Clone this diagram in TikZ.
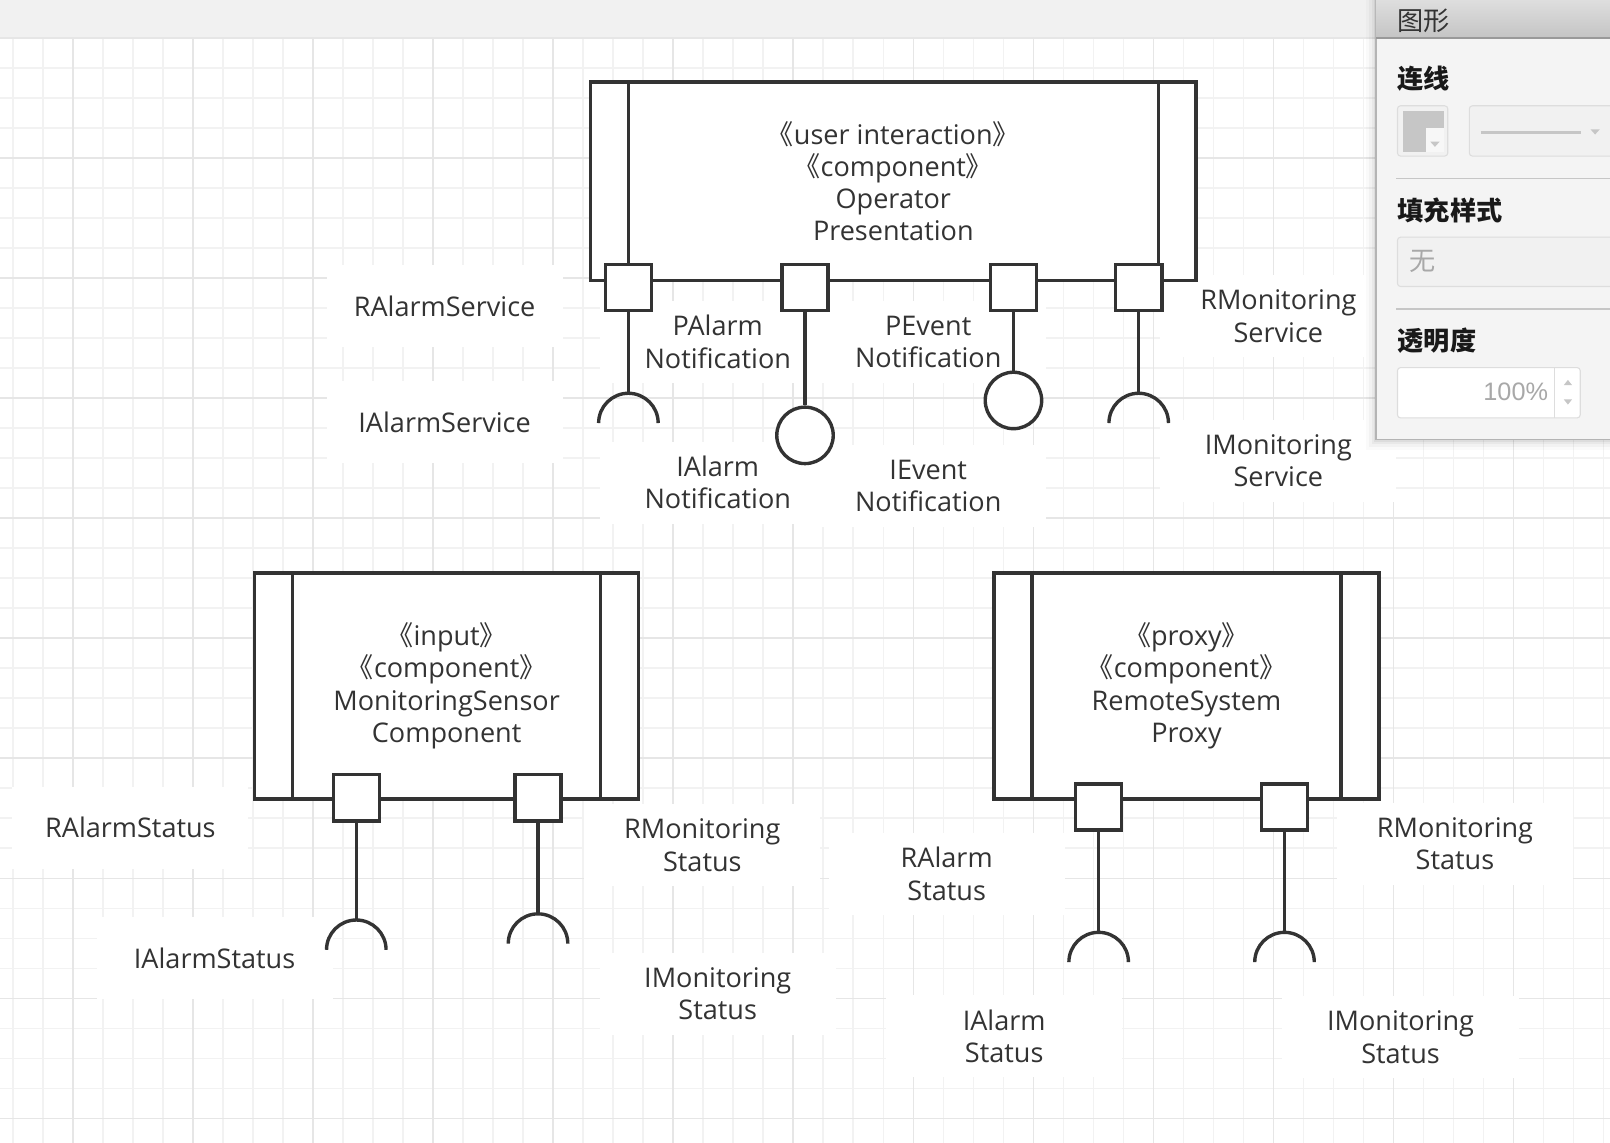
\documentclass[tikz,border=0pt]{standalone}
\usepackage{fontspec}
\setmainfont{Open Sans}
\newfontfamily\cjk{Noto Sans CJK SC}
\newfontfamily\uifont{Liberation Sans}
\newcommand{\stereoL}{{\cjk 《}}
\newcommand{\stereoR}{{\cjk 》}}
\definecolor{ink}{HTML}{333333}
\definecolor{gridminor}{HTML}{F2F2F2}
\definecolor{gridmajor}{HTML}{E6E6E6}
\definecolor{barbg}{HTML}{F1F1F1}
\definecolor{panelbg}{HTML}{F4F4F4}
\definecolor{paneledge}{HTML}{B4B4B4}
\definecolor{headtop}{HTML}{DEDEDE}
\definecolor{headbot}{HTML}{C4C4C4}
\definecolor{headedge}{HTML}{999999}
\definecolor{fieldedge}{HTML}{DDDDDD}
\definecolor{fieldbg}{HTML}{F1F1F1}
\definecolor{swatch}{HTML}{C6C6C6}
\definecolor{hint}{HTML}{A8A8A8}

\begin{document}
\begin{tikzpicture}[x=0.02cm, y=-0.02cm]
	\tikzstyle{wire}  = [draw=ink, line width=0.066cm]
	\tikzstyle{comp}  = [rectangle, wire, fill=white, align=center, text=ink, inner sep=0pt, font=\fontsize{15}{17.9}\selectfont]
	\tikzstyle{port}  = [rectangle, wire, fill=white, minimum size=0.9cm, inner sep=0pt]
	\tikzstyle{ball}  = [circle, wire, fill=white, minimum size=1.1cm, inner sep=0pt]
	\tikzstyle{lbl}   = [rectangle, fill=white, minimum width=4.6cm, minimum height=1.6cm, align=center, text=ink, inner sep=0pt, font=\fontsize{15}{17.9}\selectfont]
	\tikzstyle{minor} = [draw=gridminor, line width=0.8pt]
	\tikzstyle{major} = [draw=gridmajor, line width=0.8pt]
	\tikzstyle{title} = [anchor=west, inner sep=0pt, text=black!90, font=\cjk\bfseries\fontsize{14.5}{16}\selectfont]
	\tikzstyle{field} = [draw=fieldedge, line width=0.6pt, rounded corners=0.06cm]

	\useasboundingbox (0,0) rectangle (1568,1113);
	\fill[white] (0,0) rectangle (1568,1113);
	\fill[barbg] (0,0) rectangle (1568,37);

%	grid
	\foreach \i in {0,...,53}
		\draw[minor] ({12.65+\i*29.225},37) -- ({12.65+\i*29.225},1113);
	\foreach \j in {1,...,37}
		\draw[minor] (0,{37+\j*29.225}) -- (1568,{37+\j*29.225});
	\foreach \i in {0,...,12}
		\draw[major] ({71.1+\i*116.9},37) -- ({71.1+\i*116.9},1113);
	\foreach \j in {0,...,9}
		\draw[major] (0,{37+\j*116.9}) -- (1568,{37+\j*116.9});

	\foreach \name/\x/\y/\txt in {rAlarmSvc/433/298/RAlarmService, iAlarmSvc/433/411/IAlarmService,
			pAlarmNote/699/333/PAlarm\\Notification, pEventNote/904/333/PEvent\\Notification,
			iAlarmNote/699/470/IAlarm\\Notification, iEventNote/904/473/IEvent\\Notification,
			rMonSvc/1245/308/RMonitoring\\Service, iMonSvc/1245/449/IMonitoring\\Service,
			rAlarmStatA/127/806/RAlarmStatus, iAlarmStatA/209/933/IAlarmStatus,
			rMonStatA/684/823/RMonitoring\\Status, iMonStatA/699/968/IMonitoring\\Status,
			rAlarmStatB/922/851/RAlarm\\Status, rMonStatB/1417/822/RMonitoring\\Status,
			iAlarmStatB/978/1009/IAlarm\\Status, iMonStatB/1364/1010/IMonitoring\\Status}
		\node[lbl] (\name) at (\x,\y) {\txt};

	\node[comp, minimum width=11.8cm, minimum height=3.86cm] (opPres) at (870,176.5)
		{\stereoL user interaction\stereoR\\\stereoL component\stereoR\\Operator\\Presentation};
	\node[comp, minimum width=7.48cm, minimum height=4.4cm] (monSensor) at (435,668)
		{\stereoL input\stereoR\\\stereoL component\stereoR\\MonitoringSensor\\Component};
	\node[comp, minimum width=7.5cm, minimum height=4.4cm] (remProxy) at (1155.5,668)
		{\stereoL proxy\stereoR\\\stereoL component\stereoR\\RemoteSystem\\Proxy};

	\foreach \c in {opPres, monSensor, remProxy} {
		\draw[wire] ([xshift=0.77cm]\c.north west) -- ([xshift=0.77cm]\c.south west);
		\draw[wire] ([xshift=-0.77cm]\c.north east) -- ([xshift=-0.77cm]\c.south east);
	}

	\foreach \name/\x/\y in {pA/612/280, pB/784/280, pC/987/280, pD/1109/280,
			pE/347/777, pF/524/777, pG/1070/786, pH/1251/786}
		\node[port] (\name) at (\x,\y) {};

	\foreach \name/\x/\y in {sA/612/383, sD/1109/383, sE/347/896, sF/524/890, sG/1070/908, sH/1251/908}
		\coordinate (\name) at (\x,\y);

	\foreach \name/\x/\y in {bB/784/424, bC/987/390}
		\node[ball] (\name) at (\x,\y) {};

	\foreach \from/\to in {pA/sA, pB/bB, pC/bC, pD/sD, pE/sE, pF/sF, pG/sG, pH/sH}
		\draw[wire] (\from.south) -- (\to);

	\foreach \s in {sA, sD, sE, sF, sG, sH}
		\draw[wire] (\s) ++(-0.58cm,-0.58cm) arc[start angle=180, end angle=0, radius=0.58cm];

%	side panel
	\foreach \d/\o in {10/0.02, 7/0.03, 4/0.04, 2/0.05}
		\fill[black, opacity=\o] ({1340-\d},0) rectangle (1568,{428+\d});
	\fill[panelbg] (1340,0) rectangle (1568,428);
	\draw[paneledge, line width=0.8pt] (1340,0) -- (1340,428) -- (1568,428);
	\shade[top color=headtop, bottom color=headbot] (1340,0) rectangle (1568,37);
	\draw[headedge, line width=1pt] (1340,37) -- (1568,37);
	\node[anchor=west, inner sep=0pt, text=ink, font=\cjk\fontsize{14.5}{16}\selectfont] (shapeHdr) at (1361,20) {图形};

	\node[title] (lineHdr) at (1361,77) {连线};
	\draw[field, fill=fieldbg] (1361,103) rectangle (1410,152);
	\fill[swatch] (1366,108) rectangle (1406,148);
	\fill[fieldbg!60!white] (1389,125) rectangle (1406,148);
	\fill[swatch] (1393,138) -- (1402,138) -- (1397.5,143) -- cycle;
	\draw[field, fill=fieldbg] (1431,103) rectangle (1575,152);
	\draw[swatch, line width=0.06cm] (1442,129) -- (1540,129);
	\fill[swatch] (1549,126) -- (1558,126) -- (1553.5,131) -- cycle;
	\draw[swatch, line width=0.8pt] (1360,174) -- (1568,174);

	\node[title] (fillHdr) at (1361,205) {填充样式};
	\draw[field, fill=fieldbg] (1361,231) rectangle (1575,279);
	\node[anchor=west, inner sep=0pt, text=hint, font=\cjk\fontsize{14.5}{16}\selectfont] (fillVal) at (1372,255) {无};
	\draw[swatch, line width=0.8pt] (1360,301) -- (1568,301);

	\node[title] (opacHdr) at (1361,332) {透明度};
	\draw[field, fill=white] (1361,358) rectangle (1539,407);
	\draw[fieldedge, line width=0.6pt] (1514,358) -- (1514,407);
	\node[anchor=east, inner sep=0pt, text=hint, font=\uifont\fontsize{14}{16}\selectfont] (opacVal) at (1508,382) {100\%};
	\fill[swatch] (1523,375) -- (1531,375) -- (1527,370) -- cycle;
	\fill[swatch] (1523,389) -- (1531,389) -- (1527,394) -- cycle;
\end{tikzpicture}
\end{document}
